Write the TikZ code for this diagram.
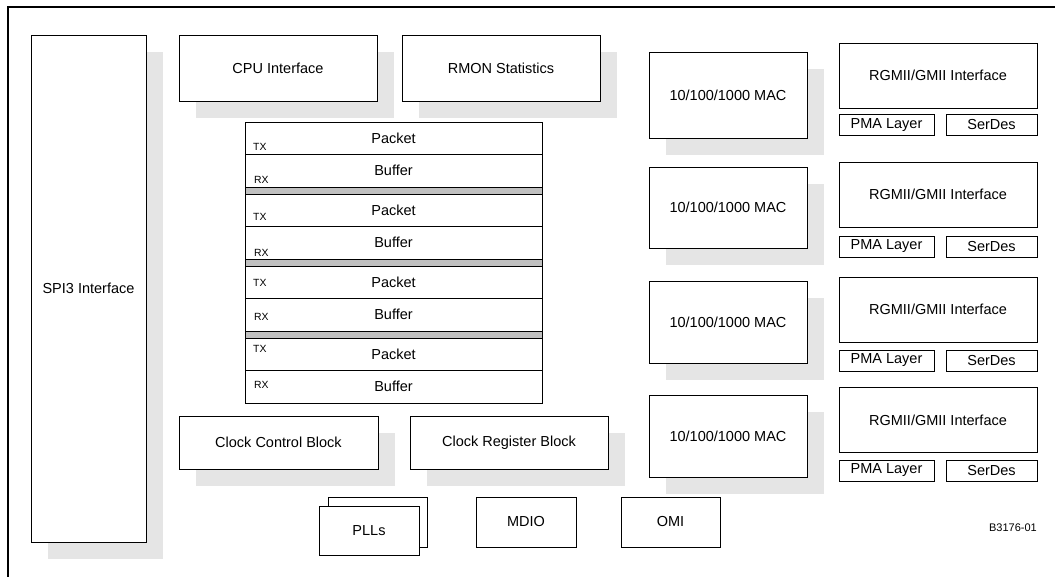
\documentclass[tikz,border=0pt]{standalone}
\usepackage{fontspec}
\setmainfont{Liberation Sans}
\usepackage{tikz}
\usepackage{xcolor}
\usetikzlibrary{shadows}
\definecolor{shadowgray}{HTML}{E5E5E5}
\definecolor{bandgray}{HTML}{C0C0C0}

\begin{document}
\begin{tikzpicture}[x=1pt, y=-1pt,
        box/.style={draw, rectangle, fill=white, line width=1pt, inner sep=0pt, outer sep=0pt, font=\fontsize{14.5}{17}\selectfont},
        shadowbox/.style={box, drop shadow={shadow xshift=16.5pt, shadow yshift=-16.5pt, fill=shadowgray, opacity=1}},
        tag/.style={inner sep=0pt, anchor=west, font=\fontsize{10.4}{12}\selectfont}]
        \clip (0,0) rectangle (1055,576);
        \draw[line width=2.7pt] (8,7) rectangle (1070,590);

        \node (spi) at ( 88.5, 288.5) [shadowbox, minimum width=115pt, minimum height=507pt] {SPI3 Interface};
        \node (cpu) at (278.0,  68.0) [shadowbox, minimum width=198pt, minimum height=66pt] {CPU Interface};
        \node (rmon) at (501.0,  68.0) [shadowbox, minimum width=198pt, minimum height=66pt] {RMON Statistics};

        % packet buffer stack
        \foreach \k in {1,2,3}
            \node (band\k) at (393.5, {118.5+72*\k}) [draw, fill=bandgray, line width=1pt, inner sep=0pt, minimum width=297pt, minimum height=7pt] {};
        \foreach \k/\t/\r in {1/25/58, 2/23/59, 3/17/51, 4/11/47} {
            \node (pkt\k) at (393.5, {66.25+72*\k}) [box, minimum width=297pt, minimum height=32.5pt] {Packet};
            \node (buf\k) at (393.5, {98.75+72*\k}) [box, minimum width=297pt, minimum height=32.5pt] {Buffer};
            \node (tx\k) at (253.0, {50+72*\k+\t}) [tag] {TX};
            \node (rx\k) at (254.0, {50+72*\k+\r}) [tag] {RX};
        }

        \node (clkctl) at (278.5, 442.5) [shadowbox, minimum width=199pt, minimum height=53pt] {Clock Control Block};
        \node (clkreg) at (509.0, 442.5) [shadowbox, minimum width=198pt, minimum height=53pt] {Clock Register Block};

        \node (pllback) at (377.5, 522.0) [box, minimum width=99pt, minimum height=50pt] {};
        \node (pll) at (369.0, 530.5) [box, minimum width=100pt, minimum height=49pt] {PLLs};
        \node (mdio) at (526.0, 522.0) [box, minimum width=100pt, minimum height=50pt] {MDIO};
        \node (omi) at (670.5, 522.0) [box, minimum width=99pt, minimum height=50pt] {OMI};

        % ports
        \foreach \n/\y/\h in {1/95/86, 2/207.5/81, 3/322/82, 4/436/82}
            \node (mac\n) at (728.0, \y) [shadowbox, minimum width=158pt, minimum height=\h pt] {10/100/1000 MAC};
        \foreach \n/\y/\p in {1/75.5/125, 2/194.5/246.5, 3/309.5/360.5, 4/420/470.5} {
            \node (rgmii\n) at (938.0, \y) [box, minimum width=198pt, minimum height=65pt] {RGMII/GMII Interface};
            \node (pma\n) at (886.5, \p) [box, minimum width=95pt, minimum height=21pt] {PMA Layer};
            \node (serdes\n) at (991.5, \p) [box, minimum width=91pt, minimum height=21pt] {SerDes};
        }

        \node (fig) at (1037.0, 528.0) [anchor=east, inner sep=0pt, font=\fontsize{11}{13}\selectfont] {B3176-01};
    \end{tikzpicture}
\end{document}
